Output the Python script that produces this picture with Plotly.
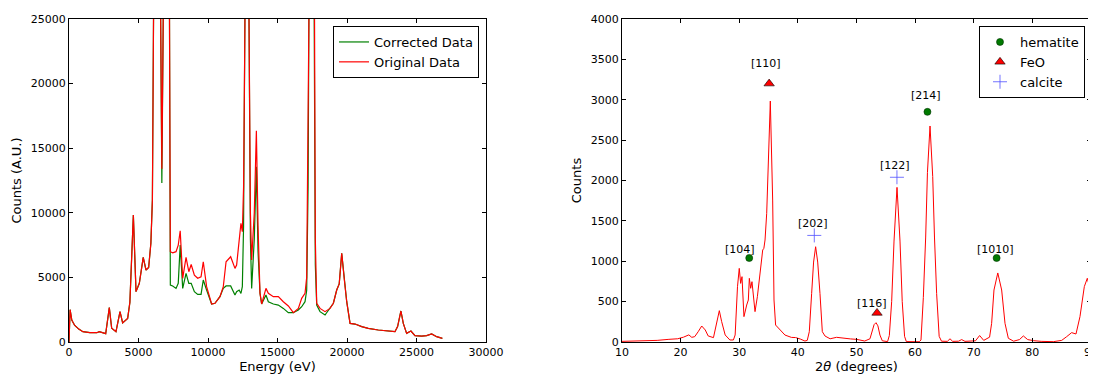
import plotly.graph_objects as go

# ---------------- Left panel: XRF spectrum ----------------
energy_ev = [0, 80, 200, 400, 700, 1000, 1500, 2000, 2180, 2400, 2640, 2900, 3070, 3380, 3670, 3860,
             4050, 4220, 4380, 4550, 4630, 4820, 5060, 5340, 5540, 5730, 5890, 6000, 6080, 6250, 6400, 6560,
             6680, 6820, 7000, 7230, 7290, 7460, 7700, 7860, 8000, 8180, 8420, 8620, 8790, 9020, 9260,
             9500, 9660, 9900, 10260, 10500, 10860, 11100, 11300, 11630, 11940, 12060, 12240, 12370,
             12470, 12560, 12660, 12800, 12950, 13050, 13140, 13330, 13480, 13600, 13740, 13860, 14170,
             14340, 14700, 15060, 15420, 15780, 16140, 16500, 16740, 16980, 17100, 17200, 17260, 17450,
             17640, 17720, 17820, 18060, 18420, 18780,
             19020, 19260, 19440, 19620, 19810, 19980, 20220, 20580, 21060, 21530, 22250, 22970, 23450,
             23640, 23880, 24050, 24290, 24600, 24890, 25370, 25730, 26090, 26450, 26860]

original_counts = [0, 2500, 1700, 1300, 1000, 800, 720, 720, 800, 720, 650, 2660, 1060, 800, 2350, 1480,
                   1650, 1830, 3070, 7200, 9830, 3900, 4540, 6550, 5570, 5770, 7640, 11000, 25000, 60000, 80000, 30000,
                   13400, 30000, 60000, 25000, 6990, 6900, 6990, 7500, 8610, 4930, 6550, 5440, 6000, 5180, 4930,
                   5050, 6210, 4280, 2940, 3000, 3510, 4280, 6210, 6600, 5700, 5960, 7640, 9190,
                   8540, 12000, 25000, 50000, 25000, 10000, 6350, 10000, 16350, 9000, 3770, 2940, 4150,
                   3770, 3510, 3510, 3120, 2790, 2270, 2600, 3380, 3770, 5000, 15000, 25000, 90000,
                   25000, 8000, 3000, 2600, 2350, 2600,
                   3000, 4020, 4500, 6870, 4800, 3120, 1440, 1390, 1190, 1060, 930, 880, 800,
                   1190, 2400, 1440, 670, 850, 490, 460, 500, 620, 410, 280]

corrected_counts = [0, 2500, 1700, 1300, 1000, 800, 720, 720, 800, 720, 650, 2660, 1060, 800, 2350, 1480,
                    1650, 1830, 3070, 7200, 9830, 3900, 4540, 6550, 5570, 5770, 7640, 11000, 25000, 60000, 80000, 30000,
                    12300, 30000, 60000, 25000, 4410, 4330, 4150, 4540, 7510, 4150, 5310, 4540, 4540, 3890, 3680,
                    3680, 4800, 4020, 2940, 3000, 3510, 4150, 4340, 4340, 3640, 3890, 4020, 3760,
                    4280, 9000, 25000, 50000, 25000, 8000, 4150, 8000, 13570, 7000, 3770, 2940, 3640,
                    3120, 2940, 2860, 2600, 2270, 2270, 2480, 2730, 3120, 4000, 12000, 25000, 90000,
                    25000, 6000, 2860, 2350, 2090, 2600,
                    3000, 4020, 4500, 6870, 4800, 3120, 1440, 1390, 1190, 1060, 930, 880, 800,
                    1190, 2400, 1440, 670, 850, 490, 460, 500, 620, 410, 280]

# ---------------- Right panel: XRD pattern ----------------
two_theta = [10, 12, 14, 16, 18, 19.5, 20.5, 21.0, 21.4, 21.9, 22.4, 23.0, 23.6, 24.2, 24.7, 25.6, 26.15,
             26.6, 27.0, 27.6, 28.4, 29.0, 29.3, 29.7, 30.0, 30.24, 30.47, 30.8, 31.27, 31.55, 31.72, 31.95,
             32.17, 32.4, 32.69, 33.09, 33.54, 34.0, 34.2, 34.4, 34.68, 34.96, 35.3, 35.7, 35.93, 36.2, 36.7,
             37.2, 37.8, 38.9, 39.6, 40.4, 41.2, 41.6, 41.95, 42.35, 42.68, 43.03, 43.38, 43.77, 44.17, 44.63,
             45.5, 46.6, 47.8, 49.0, 50.0, 51.4, 52.3, 52.7, 53.0, 53.33, 53.65, 54.0, 54.4, 55.3, 55.6, 56.0,
             56.4, 56.91, 57.42, 57.8, 58.2, 58.5, 60.7, 61.0, 61.4, 61.8, 62.1, 62.54, 63.0, 63.3, 63.67,
             64.1, 64.5, 65.5, 65.95, 66.4, 67.4, 67.94, 68.5, 70.3, 71.0, 71.7, 72.7, 73.05, 73.45, 74.1,
             74.76, 75.33, 75.9, 76.8, 77.8, 78.46, 79.2, 80.16, 81.5, 83.57, 85.0, 85.85, 86.7, 87.44,
             88.12, 88.86, 89.37, 89.83, 90.0]

xrd_counts = [8, 10, 12, 20, 33, 40, 60, 80, 88, 58, 66, 128, 198, 149, 75, 54, 231,
              388, 252, 87, 25, 25, 87, 685, 912, 726, 809, 314, 458, 520, 788, 665,
              747, 561, 376, 561, 892, 1139, 1160, 1263, 1593, 2377, 2984, 1758, 520, 210, 169,
              128, 86, 57, 55, 37, 12, 20, 128, 602, 990, 1180, 990, 602, 128, 74,
              40, 58, 45, 38, 33, 12, 40, 150, 215, 239, 200, 86, 15, 5, 80, 500,
              1250, 1915, 1250, 500, 70, 5, 3, 25, 550, 1300, 2100, 2675, 2050, 1300, 600,
              70, 10, 8, 40, 8, 10, 30, 8, 15, 80, 20, 60, 231, 644, 855,
              644, 231, 46, 10, 30, 75, 30, 17, 8, 4, 20, 66, 116, 99,
              314, 686, 789, 665, 640]

hematite_x = [31.7, 62.1, 73.9]
hematite_y = [1040, 2850, 1040]
hematite_labels = ["[104]", "[214]", "[1010]"]

feo_x = [35.1, 53.5]
feo_y = [3200, 360]
feo_labels = ["[110]", "[116]"]

calcite_x = [42.8, 56.9]
calcite_y = [1320, 2040]
calcite_labels = ["[202]", "[122]"]

# label pixel offsets (style): (dx, dy-up)
hematite_off = [(-9, 9), (-1, 16), (-1, 9)]
feo_off = [(-3, 20), (-5, 9)]
calcite_off = [(-1, 12), (-2, 12)]

FONT = "DejaVu Sans"
BODY = 8  # page body margin in the browser
W, H = 1096 - BODY, 375 - BODY
ML, MR, MT, MB = 69 - BODY, 5, 19 - BODY, 33
PW = W - ML - MR
PH = H - MT - MB


def px_x(p):
    return (p - BODY - ML) / PW


def px_y(p):
    return 1 - (p - BODY - MT) / PH


fig = go.Figure()

fig.add_trace(go.Scatter(x=energy_ev, y=corrected_counts, mode="lines", name="Corrected Data",
                         line=dict(color="#008000", width=1.2), xaxis="x", yaxis="y", legend="legend"))
fig.add_trace(go.Scatter(x=energy_ev, y=original_counts, mode="lines", name="Original Data",
                         line=dict(color="#ff0000", width=1.2), xaxis="x", yaxis="y", legend="legend"))

fig.add_trace(go.Scatter(x=two_theta, y=xrd_counts, mode="lines", showlegend=False,
                         line=dict(color="#ff0000", width=1), xaxis="x2", yaxis="y2"))
fig.add_trace(go.Scatter(x=hematite_x, y=hematite_y, mode="markers", name="hematite",
                         marker=dict(symbol="circle", size=7, color="#007a00",
                                     line=dict(color="#003300", width=0.6)),
                         xaxis="x2", yaxis="y2", legend="legend2"))
fig.add_trace(go.Scatter(x=feo_x, y=feo_y, mode="markers", name="FeO",
                         marker=dict(symbol="triangle-up", size=9, color="#ff0000",
                                     line=dict(color="#000000", width=0.6)),
                         xaxis="x2", yaxis="y2", legend="legend2"))
fig.add_trace(go.Scatter(x=calcite_x, y=calcite_y, mode="markers", name="calcite",
                         marker=dict(symbol="cross-thin", size=10, color="rgba(80,80,255,0.8)",
                                     line=dict(color="rgba(80,80,255,0.8)", width=1)),
                         xaxis="x2", yaxis="y2", legend="legend2"))

annotations = []
for xs, ys, labs, offs in [(hematite_x, hematite_y, hematite_labels, hematite_off),
                           (feo_x, feo_y, feo_labels, feo_off),
                           (calcite_x, calcite_y, calcite_labels, calcite_off)]:
    for xv, yv, lab, (dx, dy) in zip(xs, ys, labs, offs):
        annotations.append(dict(x=xv, y=yv, xref="x2", yref="y2", text=lab, showarrow=False,
                                xshift=dx, yshift=dy, yanchor="middle", xanchor="center",
                                font=dict(family=FONT, size=11, color="black")))

axis_common = dict(showline=True, linecolor="black", linewidth=1, mirror="ticks", ticks="inside",
                   ticklen=4, tickcolor="black", showgrid=False, zeroline=False, tickformat="d",
                   automargin=False, ticklabeloverflow="allow",
                   tickfont=dict(family=FONT, size=11, color="black"))

fig.update_layout(
    width=W, height=H,
    margin=dict(l=ML, r=MR, t=MT, b=MB, autoexpand=False),
    paper_bgcolor="white", plot_bgcolor="white",
    font=dict(family=FONT, color="black"),
    xaxis=dict(domain=[0, px_x(486)], range=[0, 30000], tick0=0, dtick=5000, anchor="y",
               title=dict(text="Energy (eV)", font=dict(family=FONT, size=13), standoff=2), **axis_common),
    yaxis=dict(domain=[0, 1], range=[0, 25000], tick0=0, dtick=5000, anchor="x",
               title=dict(text="Counts (A.U.)", font=dict(family=FONT, size=13), standoff=6), **axis_common),
    xaxis2=dict(domain=[px_x(622), 1], range=[10, 90], tick0=10, dtick=10, anchor="y2",
                title=dict(text="2<i>θ</i> (degrees)", font=dict(family=FONT, size=13), standoff=2), **axis_common),
    yaxis2=dict(domain=[0, 1], range=[0, 4000], tick0=0, dtick=500, anchor="x2",
                title=dict(text="Counts", font=dict(family=FONT, size=13), standoff=6), **axis_common),
    legend=dict(x=px_x(479), y=px_y(26), xanchor="right", yanchor="top", bgcolor="white",
                bordercolor="black", borderwidth=1, font=dict(family=FONT, size=13), itemwidth=30),
    legend2=dict(x=px_x(1085), y=px_y(26), xanchor="right", yanchor="top", bgcolor="white",
                 bordercolor="black", borderwidth=1, font=dict(family=FONT, size=13), itemwidth=30),
    annotations=annotations,
)

fig.write_html("out.html")
